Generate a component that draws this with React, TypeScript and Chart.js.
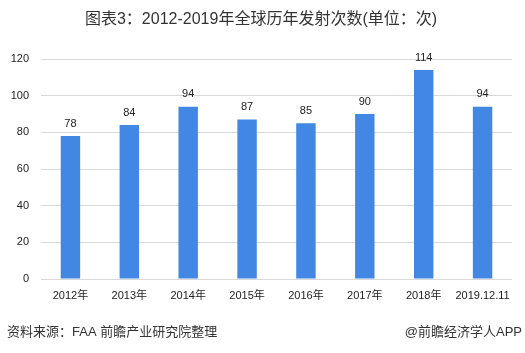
import React, { useEffect, useRef } from "react";
import { Chart, registerables } from "chart.js";

Chart.register(...registerables);

const categories = ["2012年", "2013年", "2014年", "2015年", "2016年", "2017年", "2018年", "2019.12.11"];
const launches = [78, 84, 94, 87, 85, 90, 114, 94];
const yTicks = [0, 20, 40, 60, 80, 100, 120];
const titleText = "图表3：2012-2019年全球历年发射次数(单位：次)";
const sourceText = "资料来源：FAA 前瞻产业研究院整理";
const brandText = "@前瞻经济学人APP";

const FONT = '"Liberation Sans", "Noto Sans CJK SC", sans-serif';

const textPlugin = {
  id: "texts",
  afterDraw(chart: any) {
    const ctx = chart.ctx;
    ctx.save();
    ctx.fillStyle = "#333333";
    ctx.font = `16px ${FONT}`;
    ctx.textAlign = "center";
    ctx.textBaseline = "middle";
    ctx.fillText(titleText, 261, 20);

    ctx.font = `13px ${FONT}`;
    ctx.textAlign = "left";
    ctx.fillText(sourceText, 7, 332);
    ctx.textAlign = "right";
    ctx.fillText(brandText, 522, 332);

    // data labels
    ctx.font = `11px ${FONT}`;
    ctx.textAlign = "center";
    ctx.textBaseline = "bottom";
    ctx.fillStyle = "#222222";
    const meta = chart.getDatasetMeta(0);
    meta.data.forEach((bar: any, i: number) => {
      ctx.fillText(String(launches[i]), bar.x, bar.y - 7);
    });
    ctx.restore();
  },
};

export default function App() {
  const ref = useRef<HTMLCanvasElement | null>(null);
  useEffect(() => {
    document.body.style.margin = "0";
    const chart = new Chart(ref.current!, {
      type: "bar",
      data: {
        labels: categories,
        datasets: [
          {
            data: launches,
            backgroundColor: "#4287E3",
            categoryPercentage: 1,
            barPercentage: 0.33,
          },
        ],
      },
      options: {
        animation: false,
        responsive: false,
        devicePixelRatio: 1,
        layout: { padding: { top: 59, right: 13, bottom: 44, left: 0 } },
        plugins: {
          legend: { display: false },
          title: { display: false },
          tooltip: { enabled: false },
        },
        scales: {
          x: {
            grid: { display: false, drawTicks: false },
            border: { display: false },
            ticks: {
              color: "#222222",
              font: { size: 11, family: FONT },
              padding: 10,
              maxRotation: 0,
              autoSkip: false,
            },
            afterFit(scale: any) {
              scale.height = 30;
            },
          },
          y: {
            min: 0,
            max: 120,
            afterBuildTicks(scale: any) {
              scale.ticks = yTicks.map((v) => ({ value: v }));
            },
            grid: { color: "#d9d9d9", drawTicks: false, lineWidth: 1 },
            border: { display: false },
            ticks: {
              color: "#222222",
              font: { size: 11, family: FONT },
              padding: 12,
            },
            afterFit(scale: any) {
              scale.width = 41;
            },
          },
        },
      },
      plugins: [textPlugin],
    });
    return () => chart.destroy();
  }, []);
  return <canvas ref={ref} width={525} height={353} style={{ display: "block" }} />;
}
